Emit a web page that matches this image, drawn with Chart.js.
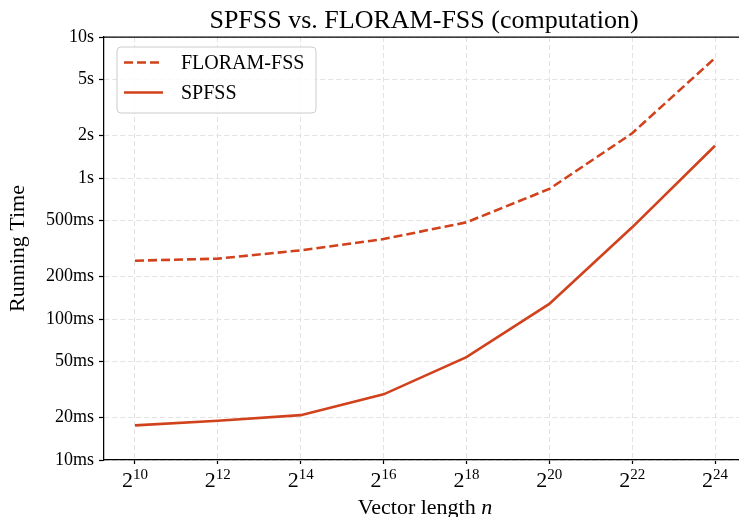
<!DOCTYPE html>
<html>
<head>
<meta charset="utf-8">
<script src="https://cdn.jsdelivr.net/npm/chart.js@4.4.1/dist/chart.umd.min.js"></script>
<style>
  html, body { margin: 0; padding: 0; background: #ffffff; }
  #wrap { width: 739px; height: 517px; }
</style>
</head>
<body>
<div id="wrap"><canvas id="chart" width="739" height="517"></canvas></div>
<script>
// Vector length exponents: n = 2^k
const exponents = [10, 12, 14, 16, 18, 20, 22, 24];
// Running times in milliseconds
const floramFss = [259, 268, 307, 369, 485, 836, 2075, 7100];
const spfss = [17.6, 19.0, 20.8, 29.2, 53.7, 128, 447, 1694];
// Y-axis tick values (ms) and their labels
const yTickValues = [10, 20, 50, 100, 200, 500, 1000, 2000, 5000, 10000];
const yTickLabels = ['10ms', '20ms', '50ms', '100ms', '200ms', '500ms', '1s', '2s', '5s', '10s'];
// X-axis tick labels: base and exponent
const xTickBase = '2';
const xTickExps = ['10', '12', '14', '16', '18', '20', '22', '24'];

const titleText = 'SPFSS vs. FLORAM-FSS (computation)';
const xTitleText = 'Vector length ';
const xTitleVar = 'n';
const yTitleText = 'Running Time';
const seriesNames = ['FLORAM-FSS', 'SPFSS'];

const RED = '#d1411b';
const FONT = '"Liberation Serif", "DejaVu Serif", serif';

const toPoints = (vals) => exponents.map((e, i) => ({ x: e, y: vals[i] }));

const decor = {
  id: 'decor',
  afterDraw(chart) {
    const ctx = chart.ctx;
    const area = chart.chartArea;
    const xs = chart.scales.x;
    ctx.save();

    // top frame line
    ctx.strokeStyle = '#000';
    ctx.lineWidth = 1.25;
    ctx.beginPath();
    ctx.moveTo(area.left, area.top);
    ctx.lineTo(area.right, area.top);
    ctx.stroke();

    // title
    ctx.fillStyle = '#000';
    ctx.font = '26px ' + FONT;
    ctx.textAlign = 'center';
    ctx.textBaseline = 'alphabetic';
    ctx.fillText(titleText, 424, 28);

    // x tick labels with superscript exponents
    exponents.forEach((e, i) => {
      const px = xs.getPixelForValue(e);
      ctx.font = '22px ' + FONT;
      const wb = ctx.measureText(xTickBase).width;
      ctx.font = '15px ' + FONT;
      const we = ctx.measureText(xTickExps[i]).width;
      const start = px - (wb + we) / 2;
      ctx.textAlign = 'left';
      ctx.font = '22px ' + FONT;
      ctx.fillText(xTickBase, start, 487);
      ctx.font = '15px ' + FONT;
      ctx.fillText(xTickExps[i], start + wb, 479);
    });

    // x axis title with italic variable
    ctx.font = '22px ' + FONT;
    const w1 = ctx.measureText(xTitleText).width;
    ctx.font = 'italic 22px ' + FONT;
    const w2 = ctx.measureText(xTitleVar).width;
    const sx = 425 - (w1 + w2) / 2;
    ctx.textAlign = 'left';
    ctx.font = '22px ' + FONT;
    ctx.fillText(xTitleText, sx, 514);
    ctx.font = 'italic 22px ' + FONT;
    ctx.fillText(xTitleVar, sx + w1, 514);

    // legend box
    const bx = 117, by = 47, bw = 199, bh = 66, r = 4;
    ctx.beginPath();
    ctx.moveTo(bx + r, by);
    ctx.lineTo(bx + bw - r, by);
    ctx.arcTo(bx + bw, by, bx + bw, by + r, r);
    ctx.lineTo(bx + bw, by + bh - r);
    ctx.arcTo(bx + bw, by + bh, bx + bw - r, by + bh, r);
    ctx.lineTo(bx + r, by + bh);
    ctx.arcTo(bx, by + bh, bx, by + bh - r, r);
    ctx.lineTo(bx, by + r);
    ctx.arcTo(bx, by, bx + r, by, r);
    ctx.closePath();
    ctx.fillStyle = 'rgba(255,255,255,0.8)';
    ctx.fill();
    ctx.strokeStyle = '#cccccc';
    ctx.lineWidth = 1;
    ctx.stroke();

    const rows = [62.5, 92.5];
    chart.data.datasets.forEach((ds, i) => {
      ctx.strokeStyle = ds.borderColor;
      ctx.lineWidth = ds.borderWidth;
      ctx.setLineDash(ds.borderDash || []);
      ctx.beginPath();
      ctx.moveTo(124, rows[i]);
      ctx.lineTo(163, rows[i]);
      ctx.stroke();
      ctx.setLineDash([]);
      ctx.fillStyle = '#000';
      ctx.font = '20px ' + FONT;
      ctx.textAlign = 'left';
      ctx.textBaseline = 'middle';
      ctx.fillText(ds.label, 181, rows[i] + 1);
    });

    ctx.restore();
  }
};

new Chart(document.getElementById('chart'), {
  type: 'line',
  data: {
    datasets: [
      {
        label: seriesNames[0],
        data: toPoints(floramFss),
        borderColor: RED,
        borderWidth: 2.6,
        borderDash: [9, 4],
        pointRadius: 0,
        tension: 0,
        fill: false
      },
      {
        label: seriesNames[1],
        data: toPoints(spfss),
        borderColor: RED,
        borderWidth: 2.6,
        pointRadius: 0,
        tension: 0,
        fill: false
      }
    ]
  },
  options: {
    responsive: false,
    animation: false,
    devicePixelRatio: 1,
    layout: { padding: { top: 37, left: 0, right: 0, bottom: 0 } },
    plugins: {
      legend: { display: false },
      title: { display: false },
      tooltip: { enabled: false }
    },
    scales: {
      x: {
        type: 'linear',
        min: 9.252,
        max: 24.579,
        afterBuildTicks: (s) => { s.ticks = exponents.map(v => ({ value: v })); },
        afterFit: (s) => { s.height = 57; },
        ticks: { display: false },
        grid: {
          color: '#e3e3e3',
          lineWidth: 1,
          drawTicks: true,
          tickLength: 4,
          tickColor: '#000',
          tickWidth: 1.25
        },
        border: { display: true, color: '#000', width: 1.25, dash: [5, 3] }
      },
      y: {
        type: 'logarithmic',
        min: 10,
        max: 10000,
        afterBuildTicks: (s) => { s.ticks = yTickValues.map(v => ({ value: v })); },
        afterFit: (s) => { s.width = 104; },
        ticks: {
          autoSkip: false,
          padding: 5,
          color: '#000',
          font: { family: FONT, size: 18 },
          callback: (v, i) => yTickLabels[i]
        },
        grid: {
          color: '#e3e3e3',
          lineWidth: 1,
          drawTicks: true,
          tickLength: 5,
          tickColor: '#000',
          tickWidth: 1.25
        },
        border: { display: true, color: '#000', width: 1.25, dash: [5, 3] },
        title: {
          display: true,
          text: yTitleText,
          color: '#000',
          font: { family: FONT, size: 22 },
          padding: { top: 5, bottom: 0 }
        }
      }
    }
  },
  plugins: [decor]
});
</script>
</body>
</html>
